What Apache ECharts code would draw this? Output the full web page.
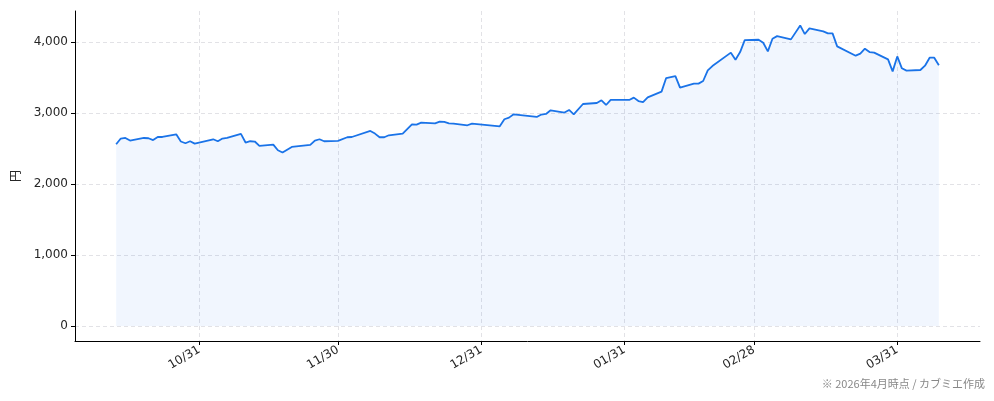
<!DOCTYPE html>
<html>
<head>
<meta charset="utf-8">
<script src="https://cdn.jsdelivr.net/npm/echarts@6/dist/echarts.min.js"></script>
<style>
html,body{margin:0;padding:0;background:#fff;}
#main{width:994px;height:401px;}
</style>
</head>
<body>
<div id="main"></div>
<script>
// 日付と終値（円）
var dates = [
  '2025-10-13','2025-10-14','2025-10-15','2025-10-16','2025-10-19','2025-10-20','2025-10-21','2025-10-22','2025-10-23',
  '2025-10-26','2025-10-27','2025-10-28','2025-10-29','2025-10-30',
  '2025-11-03','2025-11-04','2025-11-05','2025-11-06','2025-11-09','2025-11-10','2025-11-11','2025-11-12','2025-11-13',
  '2025-11-16','2025-11-17','2025-11-18','2025-11-20','2025-11-24','2025-11-25','2025-11-26','2025-11-27','2025-11-30',
  '2025-12-02','2025-12-03','2025-12-07','2025-12-08','2025-12-09','2025-12-10','2025-12-11','2025-12-14','2025-12-16',
  '2025-12-17','2025-12-18','2025-12-21','2025-12-22','2025-12-23','2025-12-24','2025-12-25','2025-12-28','2025-12-29',
  '2026-01-04','2026-01-05','2026-01-06','2026-01-07','2026-01-12','2026-01-13','2026-01-14','2026-01-15','2026-01-18',
  '2026-01-19','2026-01-20','2026-01-22','2026-01-25','2026-01-26','2026-01-27','2026-01-28',
  '2026-02-01','2026-02-02','2026-02-03','2026-02-04','2026-02-05','2026-02-08','2026-02-09','2026-02-11','2026-02-12',
  '2026-02-15','2026-02-16','2026-02-17','2026-02-18','2026-02-19','2026-02-23','2026-02-24','2026-02-25','2026-02-26',
  '2026-03-01','2026-03-02','2026-03-03','2026-03-04','2026-03-05','2026-03-08','2026-03-10','2026-03-11','2026-03-12',
  '2026-03-15','2026-03-16','2026-03-17','2026-03-18','2026-03-22','2026-03-23','2026-03-24','2026-03-25','2026-03-26',
  '2026-03-29','2026-03-30','2026-03-31','2026-04-01','2026-04-02','2026-04-05','2026-04-06','2026-04-07','2026-04-08','2026-04-09'
];
var prices = [
  2563,2643,2651,2615,2651,2647,2622,2665,2665,
  2703,2601,2577,2605,2572,
  2633,2605,2643,2651,2708,2587,2605,2601,2539,
  2558,2478,2446,2525,2553,2615,2633,2605,2609,
  2661,2665,2750,2713,2661,2661,2689,2713,2844,
  2840,2868,2858,2882,2877,2858,2854,2830,2854,
  2816,2915,2938,2985,2947,2981,2990,3041,3009,
  3046,2985,3130,3144,3182,3116,3187,
  3187,3220,3172,3158,3224,3304,3496,3524,3361,
  3417,3417,3454,3604,3665,3854,3755,3862,4031,
  4036,3994,3872,4050,4087,4041,4238,4116,4196,
  4154,4125,4125,3942,3811,3840,3910,3862,3854,
  3759,3590,3801,3633,3600,3609,3670,3783,3783,3675
];
// 目盛り
var xTicks = ['2025-10-31','2025-11-30','2025-12-31','2026-01-31','2026-02-28','2026-03-31'];
var yTicks = [0,1000,2000,3000,4000];

var parse = function(s){
    return +echarts.time.parse(s);
};
var pad = function(n){
    return n < 10 ? '0' + n : '' + n;
};

var seriesData = [];
for(var i=0;i<dates.length;i++){
    seriesData.push([parse(dates[i]), prices[i]]);
}
var xTickVals = xTicks.map(parse);

var chart = echarts.init(document.getElementById('main'));
var fontFam = 'DejaVu Sans, Noto Sans CJK JP, sans-serif';
var option = {
    animation: false,
    backgroundColor: '#ffffff',
    grid: {left: 75, right: 14, top: 11, bottom: 60},
    xAxis: {
        type: 'value',
        min: parse('2025-10-04 02:24'),
        max: parse('2026-04-17 21:36'),
        axisLine: {show: true, onZero: false, lineStyle: {color: '#000', width: 1}},
        axisTick: {show: true, customValues: xTickVals, length: 4, lineStyle: {color: '#000'}},
        axisLabel: {
            customValues: xTickVals,
            rotate: 30,
            fontSize: 12,
            color: '#262626',
            fontFamily: fontFam,
            margin: 8,
            formatter: function(v){
                var d = new Date(v);
                return pad(d.getMonth()+1) + '/' + pad(d.getDate());
            }
        },
        splitLine: {show: true, lineStyle: {type: [4,3], color: '#e2e2e6', width: 1}}
    },
    yAxis: {
        type: 'value',
        min: -211,
        max: 4441,
        name: '円',
        nameLocation: 'middle',
        nameGap: 52,
        nameTextStyle: {fontSize: 12, color: '#262626', fontFamily: fontFam},
        axisLine: {show: true, lineStyle: {color: '#000', width: 1}},
        axisTick: {show: true, customValues: yTicks, length: 4, lineStyle: {color: '#000'}},
        axisLabel: {
            customValues: yTicks,
            fontSize: 12,
            color: '#262626',
            fontFamily: fontFam,
            margin: 7,
            formatter: function(v){
                return v.toLocaleString('en-US');
            }
        },
        splitLine: {show: true, lineStyle: {type: [4,3], color: '#e2e2e6', width: 1}}
    },
    series: [{
        type: 'line',
        data: seriesData,
        symbol: 'none',
        lineStyle: {color: '#1a73e8', width: 1.8},
        areaStyle: {color: 'rgba(26,115,232,0.09)', origin: 'auto'}
    }],
    graphic: [{
        type: 'text',
        right: 9,
        top: 378,
        style: {
            text: '※ 2026年4月時点 / カブミエ作成',
            fontSize: 11,
            fill: '#888',
            fontFamily: 'Noto Sans CJK JP, sans-serif'
        }
    }]
};
chart.setOption(option);
</script>
</body>
</html>
